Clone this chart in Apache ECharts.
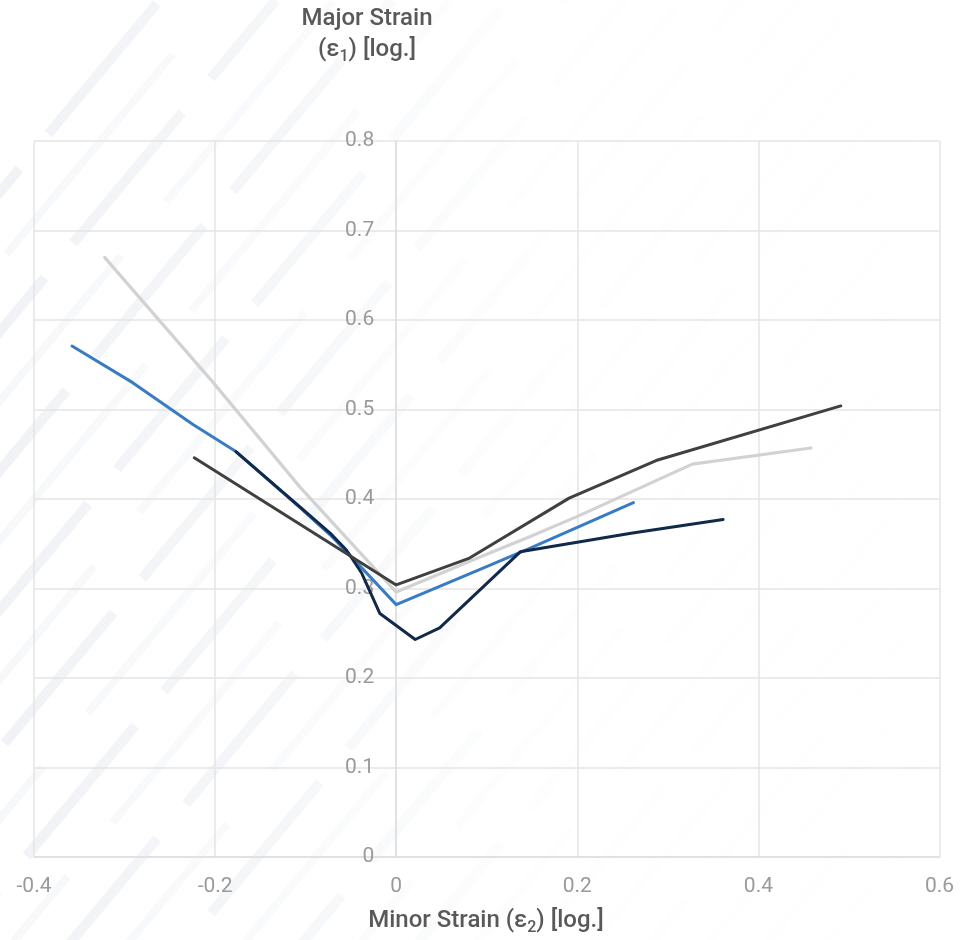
<!DOCTYPE html>
<html>
<head>
<meta charset="utf-8">
<title>Forming Limit Curves</title>
<script src="https://cdn.jsdelivr.net/npm/echarts@6/dist/echarts.min.js"></script>
<style>
  html, body { margin: 0; padding: 0; background: #ffffff; }
  #chart { width: 960px; height: 940px; }
</style>
</head>
<body>
<div id="chart"></div>
<script>
// Axis ticks and labels
const xTicks = [-0.4, -0.2, 0, 0.2, 0.4, 0.6];
const xTickLabels = ['-0.4', '-0.2', '0', '0.2', '0.4', '0.6'];
const yTicks = [0, 0.1, 0.2, 0.3, 0.4, 0.5, 0.6, 0.7, 0.8];
const yTickLabels = ['0', '0.1', '0.2', '0.3', '0.4', '0.5', '0.6', '0.7', '0.8'];

// Forming limit curves: [minor strain ε2, major strain ε1]
const curveLightGray = [
  [-0.322, 0.670], [-0.202, 0.530], [-0.106, 0.413], [0.000, 0.296],
  [0.092, 0.335], [0.148, 0.358], [0.199, 0.380], [0.327, 0.439], [0.458, 0.457]
];
const curveBlue = [
  [-0.358, 0.571], [-0.291, 0.530], [-0.224, 0.483], [-0.177, 0.453],
  [-0.106, 0.390], [-0.073, 0.360], [-0.051, 0.337], [0.000, 0.282],
  [0.092, 0.321], [0.148, 0.345], [0.262, 0.396]
];
const curveNavy = [
  [-0.177, 0.453], [-0.106, 0.391], [-0.073, 0.362], [-0.055, 0.343],
  [-0.038, 0.317], [-0.018, 0.272], [0.021, 0.243], [0.048, 0.256],
  [0.137, 0.341], [0.261, 0.362], [0.361, 0.377]
];
const curveDarkGray = [
  [-0.223, 0.446], [-0.055, 0.339], [0.000, 0.304], [0.081, 0.334],
  [0.191, 0.401], [0.287, 0.443], [0.491, 0.504]
];

function tickLabel(ticks, labels, v) {
  let best = 0;
  for (let i = 1; i < ticks.length; i++) {
    if (Math.abs(ticks[i] - v) < Math.abs(ticks[best] - v)) best = i;
  }
  return labels[best];
}

// Decorative diagonal band texture in the background, fading to the right
function backgroundBands() {
  const els = [];
  const slope = 1.2;
  for (let i = 0; i < 26; i++) {
    const c = -640 + i * 58;
    const wide = i % 2 === 0;
    els.push({
      type: 'line',
      z: -10,
      silent: true,
      shape: { x1: c, y1: 960, x2: c + 960 / slope, y2: 0 },
      style: {
        lineWidth: wide ? 10 : 8,
        lineDash: wide ? [170, 45] : [260, 70],
        lineDashOffset: (i * 71) % 210,
        stroke: {
          type: 'linear', global: true,
          x: 0, y: 0, x2: 960, y2: 0,
          colorStops: [
            { offset: 0, color: wide ? 'rgba(228,232,238,0.55)' : 'rgba(234,237,241,0.40)' },
            { offset: 0.3, color: wide ? 'rgba(230,234,239,0.40)' : 'rgba(236,238,242,0.28)' },
            { offset: 0.55, color: 'rgba(240,242,244,0.12)' },
            { offset: 1, color: 'rgba(245,245,245,0.04)' }
          ]
        }
      }
    });
  }
  return els;
}

const titleFont = 'Roboto, "Noto Sans", sans-serif';
const titleStyle = {
  fill: '#595959',
  fontFamily: titleFont,
  fontSize: 24,
  fontWeight: 500,
  align: 'center',
  verticalAlign: 'middle',
  lineHeight: 30,
  rich: {
    s: {
      fill: '#595959',
      fontFamily: titleFont,
      fontSize: 16,
      fontWeight: 500,
      lineHeight: 16,
      verticalAlign: 'bottom'
    }
  }
};

const lineSeries = (name, data, color, width, z) => ({
  name: name,
  type: 'line',
  data: data,
  showSymbol: false,
  symbol: 'none',
  smooth: false,
  z: z,
  lineStyle: { color: color, width: width, cap: 'round', join: 'round' },
  emphasis: { disabled: true }
});

const gridLeft = 34;
const chart = echarts.init(document.getElementById('chart'), null, { renderer: 'canvas' });
const option = {
  backgroundColor: '#ffffff',
  animation: false,
  grid: {
    left: gridLeft, right: 20.5, top: 141, bottom: 83,
    containLabel: false, outerBoundsMode: 'none'
  },
  xAxis: {
    type: 'value',
    min: -0.4, max: 0.6, interval: 0.2,
    axisLine: { show: true, onZero: false, lineStyle: { color: '#dedede', width: 1.5 } },
    axisTick: { show: false },
    axisLabel: {
      color: '#9a9a9a', fontFamily: 'Roboto, sans-serif', fontSize: 21, margin: 19,
      formatter: v => tickLabel(xTicks, xTickLabels, v)
    },
    splitLine: { show: true, lineStyle: { color: '#e4e4e4', width: 1.5 } }
  },
  yAxis: {
    type: 'value',
    position: 'left',
    offset: 0,
    min: 0, max: 0.8, interval: 0.1,
    axisLine: { show: true, onZero: false, lineStyle: { color: '#dedede', width: 1.5 } },
    axisTick: { show: false },
    axisLabel: {
      color: '#9a9a9a', fontFamily: 'Roboto, sans-serif', fontSize: 21, margin: 22,
      formatter: v => tickLabel(yTicks, yTickLabels, v)
    },
    splitLine: { show: true, lineStyle: { color: '#e4e4e4', width: 1.5 } }
  },
  graphic: backgroundBands().concat([
    { type: 'text', x: 367, y: 19, z: 5, style: Object.assign({}, titleStyle, { text: 'Major Strain' }) },
    { type: 'text', x: 367, y: 50, z: 5, style: Object.assign({}, titleStyle, { text: '(ε{s|1}) [log.]' }) },
    { type: 'text', x: 486, y: 921, z: 5, style: Object.assign({}, titleStyle, { text: 'Minor Strain (ε{s|2}) [log.]' }) }
  ]),
  series: [
    lineSeries('FLC A', curveLightGray, '#d2d2d2', 3.2, 2),
    lineSeries('FLC B', curveBlue, '#3a7cc3', 3, 3),
    lineSeries('FLC C', curveNavy, '#12294a', 3, 4),
    lineSeries('FLC D', curveDarkGray, '#404040', 3, 5)
  ]
};
chart.setOption(option);

// Place the vertical axis (line and labels) where minor strain is zero
for (let pass = 0; pass < 2; pass++) {
  const zeroX = chart.convertToPixel({ xAxisIndex: 0 }, 0);
  const leftX = chart.convertToPixel({ xAxisIndex: 0 }, xTicks[0]);
  chart.setOption({ yAxis: { offset: leftX - zeroX } });
}
</script>
</body>
</html>
